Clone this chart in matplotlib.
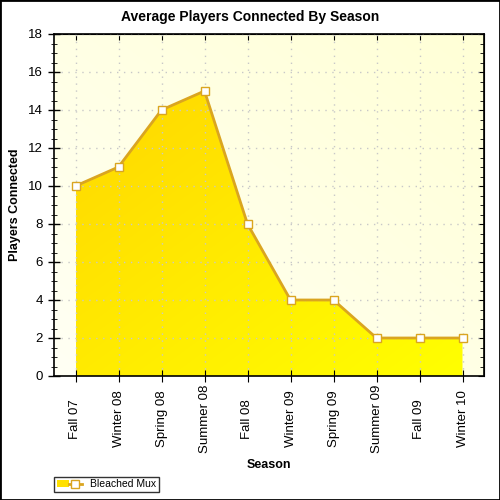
import numpy as np
import matplotlib
matplotlib.use('Agg')
import matplotlib.pyplot as plt
from matplotlib.colors import LinearSegmentedColormap
from matplotlib.patches import Rectangle, Patch
from matplotlib.lines import Line2D
from matplotlib.legend_handler import HandlerTuple

plt.rcParams['font.family'] = ['Liberation Sans', 'DejaVu Sans']

# Data
seasons = ['Fall 07', 'Winter 08', 'Spring 08', 'Summer 08', 'Fall 08',
           'Winter 09', 'Spring 09', 'Summer 09', 'Fall 09', 'Winter 10']
players = [10, 11, 14, 15, 8, 4, 4, 2, 2, 2]
series_name = 'Bleached Mux'

x = np.arange(len(seasons))

fig = plt.figure(figsize=(5, 5), dpi=100)
ax = fig.add_axes([0.108, 0.248, 0.86, 0.684])
ax.set_xlim(-0.5, len(seasons) - 0.5)
ax.set_ylim(0, 18)

# Plot area background gradient
bg = LinearSegmentedColormap.from_list('bg', ['#FFFFF4', '#FFFFD6'])
gx, gy = np.meshgrid(np.linspace(0, 1, 64), np.linspace(0, 1, 64))
ax.imshow((gx + gy) / 2, cmap=bg, extent=[-0.5, len(seasons) - 0.5, 0, 18],
          origin='lower', aspect='auto', zorder=0, interpolation='bilinear')

# Area with gradient fill
poly = ax.fill_between(x, 0, players, facecolor='none', edgecolor='none', zorder=2)
fillmap = LinearSegmentedColormap.from_list('fill', ['#FFD700', '#FFFF00'])
grad = ax.imshow((gx + (1 - gy)) / 2, cmap=fillmap,
                 extent=[0, len(seasons) - 1, 0, max(players)],
                 origin='lower', aspect='auto', zorder=2, interpolation='bilinear')
grad.set_clip_path(poly.get_paths()[0], transform=ax.transData)

ax.plot(x, players, color='#DAA520', lw=2, marker='s', markersize=6,
        markerfacecolor='white', markeredgecolor='#DAA520', markeredgewidth=1,
        zorder=4, clip_on=False)

ax.set_xticks(x)
ax.set_xticklabels(seasons, rotation=90, fontsize=9.5, va='center')
ax.set_yticks(np.arange(0, 19, 2))
ax.set_yticks(np.arange(0, 18.5, 0.5), minor=True)
ax.tick_params(axis='y', labelsize=9.5, direction='inout', length=8, width=1, pad=4)
ax.tick_params(axis='y', which='minor', direction='inout', length=5)
ax.tick_params(axis='x', direction='inout', length=8, pad=27)
ax.grid(True, color='#C8C8C8', linestyle=(0, (1, 4)), lw=1, zorder=1)
ax.set_axisbelow(False)
for s in ax.spines.values():
    s.set_linewidth(1.2)
    s.set_zorder(5)

# Inward ticks on the top and right edges
top = ax.secondary_xaxis('top')
top.set_xticks(x)
top.tick_params(direction='in', length=4, labeltop=False)
right = ax.secondary_yaxis('right')
right.set_yticks(np.arange(0, 19, 2))
right.set_yticks(np.arange(0, 18.5, 0.5), minor=True)
right.tick_params(direction='in', length=4, labelright=False)
right.tick_params(which='minor', direction='in', length=3)

fig.text(0.5, 0.966, 'Average Players Connected By Season', fontsize=10,
         fontweight='bold', ha='center', va='center')
ax.set_xlabel('Season', fontsize=9, fontweight='bold', va='center')
ax.xaxis.set_label_coords(0.5, -0.26)
ax.set_ylabel('Players Connected', fontsize=9, fontweight='bold', va='center')
ax.yaxis.set_label_coords(-0.091, 0.5)

# Legend at the bottom left
h_patch = Patch(facecolor='#FFE000', edgecolor='none')
h_line = Line2D([], [], color='#DAA520', lw=2, marker='s', markersize=6,
                markerfacecolor='white', markeredgecolor='#DAA520')
leg = fig.legend([(h_patch, h_line)], [series_name],
                 handler_map={tuple: HandlerTuple(ndivide=None, pad=0)},
                 loc='lower left', bbox_to_anchor=(0.108, 0.016),
                 fontsize=7.5, frameon=True, fancybox=False, borderpad=0.25,
                 handlelength=2.4, handleheight=0.7, handletextpad=0.8,
                 borderaxespad=0)
leg.get_frame().set_edgecolor('black')
leg.get_frame().set_linewidth(1)

fig.patches.append(Rectangle((0, 0), 1, 1, transform=fig.transFigure,
                             fill=False, edgecolor='black', lw=2))

fig.savefig('out.png', dpi=100)
